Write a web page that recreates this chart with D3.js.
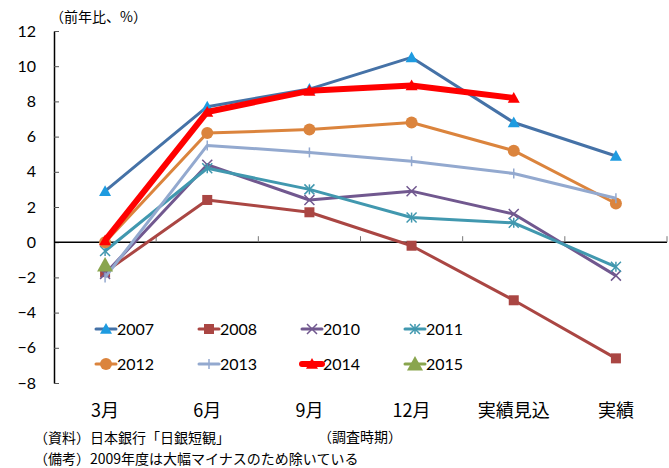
<!DOCTYPE html>
<html>
<head>
<meta charset="utf-8">
<script src="https://cdn.jsdelivr.net/npm/d3@7"></script>
<style>
  body { margin: 0; background: #fff; }
  text { font-family: "Noto Sans CJK JP", "Noto Sans", sans-serif; fill: #000; }
</style>
</head>
<body>
<script>
// categories (survey timing)
var categories = ["3月", "6月", "9月", "12月", "実績見込", "実績"];
var years = ["2007", "2008", "2010", "2011", "2012", "2013", "2014", "2015"];

// values, 前年比 %
var v2007 = [2.9, 7.7, 8.7, 10.5, 6.8, 4.9];
var v2008 = [-1.7, 2.4, 1.7, -0.2, -3.3, -6.6];
var v2010 = [-1.8, 4.4, 2.4, 2.9, 1.6, -1.9];
var v2011 = [-0.5, 4.2, 3.0, 1.4, 1.1, -1.4];
var v2012 = [0.0, 6.2, 6.4, 6.8, 5.2, 2.2];
var v2013 = [-2.0, 5.5, 5.1, 4.6, 3.9, 2.5];
var v2014 = [0.1, 7.4, 8.6, 8.9, 8.2];
var v2015 = [-1.3];
var yTicks = [-8, -6, -4, -2, 0, 2, 4, 6, 8, 10, 12];

var values = [v2007, v2008, v2010, v2011, v2012, v2013, v2014, v2015];
var lineColours = ["#4572A7", "#AA4643", "#71588F", "#4198AF", "#DB843D", "#93A9CF", "#FF0000", "#89A54E"];
var markerColours = ["#1E9BE0", "#AA4643", "#71588F", "#4198AF", "#DB843D", "#93A9CF", "#FF0000", "#89A54E"];
var markerTypes = ["tri", "square", "x", "star", "circle", "plus", "tri", "tri"];
var widths = [3, 3, 3, 3, 3, 3, 6, 3];

var series = years.map(function(y, i) {
  return { name: y, values: values[i], line: lineColours[i], mark: markerColours[i], type: markerTypes[i], w: widths[i] };
});

var svg = d3.select("body").append("svg")
    .attr("width", 669)
    .attr("height", 468);

var x = d3.scaleBand().domain(categories).range([54, 667]);
var y = d3.scaleLinear().domain([-8, 12]).range([383, 31]);

// y axis
var yAxis = svg.append("g").attr("transform", "translate(54,0)")
    .call(d3.axisLeft(y).tickValues(yTicks).tickSizeInner(-5).tickSizeOuter(0).tickPadding(18));
yAxis.select(".domain").attr("stroke", "#000").attr("stroke-width", 1.5);
yAxis.selectAll(".tick line").attr("stroke", "#555");
yAxis.selectAll("text").style("font-size", "16px").style("font-family", "Lato, sans-serif");

// category axis along zero
var xAxis = svg.append("g").attr("transform", "translate(0," + y(0) + ")");
xAxis.append("line").attr("x1", 54).attr("x2", 667).attr("stroke", "#000").attr("stroke-width", 1.5);
xAxis.selectAll(".tk")
    .data(categories.map(function(c) { return x(c) + x.bandwidth(); }))
    .enter().append("line")
    .attr("x1", function(d) { return d; })
    .attr("x2", function(d) { return d; })
    .attr("y1", -6).attr("y2", 0)
    .attr("stroke", "#777");

svg.selectAll(".cat")
    .data(categories)
    .enter().append("text")
    .attr("x", function(d) { return x(d) + x.bandwidth() / 2; })
    .attr("y", 417)
    .attr("text-anchor", "middle")
    .style("font-size", "18px")
    .text(function(d) { return d; });

var line = d3.line()
    .x(function(d, i) { return x(categories[i]) + x.bandwidth() / 2; })
    .y(function(d) { return y(d); });

function drawMarker(g, type, cx, cy, colour, big) {
  var s = big ? 7 : 5;
  if (type === "tri") {
    var t = big ? 8 : 6;
    g.append("path").attr("d", "M" + cx + "," + (cy - t) + "L" + (cx + t) + "," + (cy + t * 0.8) + "L" + (cx - t) + "," + (cy + t * 0.8) + "Z")
      .attr("fill", colour);
  } else if (type === "square") {
    g.append("rect").attr("x", cx - s).attr("y", cy - s).attr("width", 2 * s).attr("height", 2 * s).attr("fill", colour);
  } else if (type === "circle") {
    g.append("circle").attr("cx", cx).attr("cy", cy).attr("r", s + 1).attr("fill", colour);
  } else if (type === "x" || type === "star") {
    g.append("path").attr("d", "M" + (cx - s) + "," + (cy - s) + "L" + (cx + s) + "," + (cy + s) + "M" + (cx - s) + "," + (cy + s) + "L" + (cx + s) + "," + (cy - s))
      .attr("stroke", colour).attr("stroke-width", 1.5);
    if (type === "star") {
      g.append("path").attr("d", "M" + cx + "," + (cy - s) + "L" + cx + "," + (cy + s))
        .attr("stroke", colour).attr("stroke-width", 1.5);
    }
  } else if (type === "plus") {
    g.append("path").attr("d", "M" + cx + "," + (cy - s) + "L" + cx + "," + (cy + s))
      .attr("stroke", colour).attr("stroke-width", 1.5);
  }
}

series.forEach(function(s) {
  var g = svg.append("g");
  if (s.values.length > 1) {
    g.append("path")
      .datum(s.values)
      .attr("d", line)
      .attr("fill", "none")
      .attr("stroke", s.line)
      .attr("stroke-width", s.w)
      .attr("stroke-linejoin", "round");
  }
  s.values.forEach(function(v, i) {
    drawMarker(g, s.type, x(categories[i]) + x.bandwidth() / 2, y(v), s.mark, s.name === "2015");
  });
});

// legend
var legend = svg.append("g");
series.forEach(function(s, i) {
  var lx = 96 + (i % 4) * 103;
  var ly = 329 + Math.floor(i / 4) * 35;
  var g = legend.append("g");
  g.append("line").attr("x1", lx).attr("x2", lx + 20).attr("y1", ly).attr("y2", ly)
    .attr("stroke", s.line).attr("stroke-width", s.w).attr("stroke-linecap", "round");
  drawMarker(g, s.type, lx + 10, ly, s.mark, s.name === "2015");
  g.append("text").attr("x", lx + 21).attr("y", ly + 6)
    .style("font-size", "16px").style("font-family", "Lato, sans-serif").text(s.name);
});

// titles and notes
svg.append("text").attr("x", 50).attr("y", 22).style("font-size", "14px").text("（前年比、%）");
svg.append("text").attr("x", 318).attr("y", 442).style("font-size", "14px").text("（調査時期）");
svg.append("text").attr("x", 34).attr("y", 443).style("font-size", "14px").text("（資料）日本銀行「日銀短観」");
svg.append("text").attr("x", 34).attr("y", 464).style("font-size", "14px").text("（備考）2009年度は大幅マイナスのため除いている");
</script>
</body>
</html>
